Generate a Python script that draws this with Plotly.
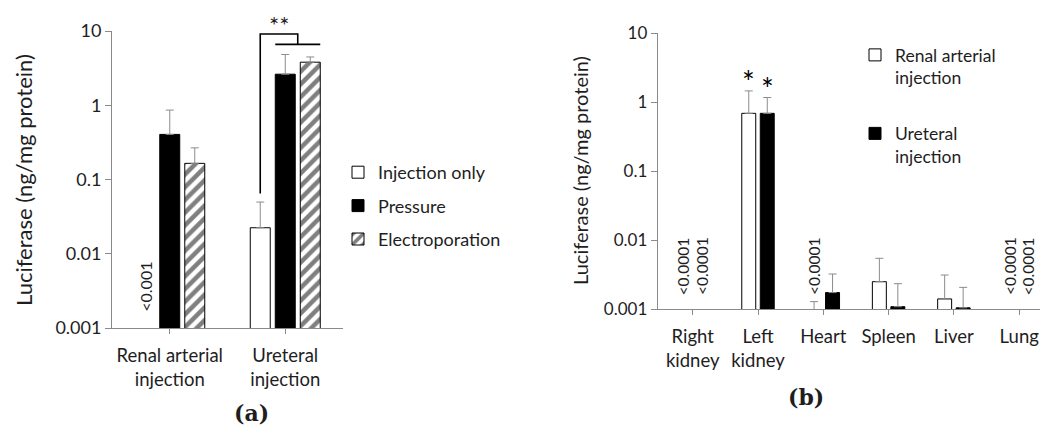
import numpy as np
import plotly.graph_objects as go

# ---------------- data ----------------
# Panel (a)
cats_a = ["Renal arterial<br>injection", "Ureteral<br>injection"]
series_a = ["Injection only", "Pressure", "Electroporation"]
inj_only = [None, 0.0224]
inj_only_err = [None, 0.0497]
pressure = [0.405, 2.62]
pressure_err = [0.86, 4.83]
electro = [0.165, 3.80]
electro_err = [0.267, 4.47]
below_a = [("Injection only", 0, "<0.001")]

# Panel (b)
cats_b = ["Right<br>kidney", "Left<br>kidney", "Heart", "Spleen", "Liver", "Lung"]
series_b = ["Renal arterial<br>injection", "Ureteral<br>injection"]
renal_b = [None, 0.69, 0.0001, 0.00249, 0.0014, None]
renal_b_err = [None, 1.46, 0.00128, 0.00544, 0.00311, None]
ureter_b = [None, 0.69, 0.00173, 0.00108, 0.00104, None]
ureter_b_err = [None, 1.17, 0.00322, 0.00233, 0.00206, None]
below_b = [(0, 0, "<0.0001"), (0, 1, "<0.0001"), (2, 0, "<0.0001"),
           (5, 0, "<0.0001"), (5, 1, "<0.0001")]
stars_b = [(1, 0, "*"), (1, 1, "*")]

ytick_vals = [0.001, 0.01, 0.1, 1, 10]
ytick_text = ["0.001", "0.01", "0.1", "1", "10"]
ytitle = "Luciferase (ng/mg protein)"

# ---------------- style ----------------
FONT = "Lato"
TXT = "#1e1e1e"
AX = "#8a8a8a"
ERR = "#8c8c8c"

# the page body has an 8px margin: the figure is sized so that it fits the window
OX, OY = 8, 8
FW, FH = 1040, 418


def px(x):
    return (x - OX) / FW


def py(y):
    return 1 - (y - OY) / FH


wa, offs_a = 0.173, [-0.2165, 0.0, 0.2165]
wb, offs_b = 0.214, [-0.1416, 0.1416]


def err_plus(vals, tops):
    return [None if (v is None or t is None) else t - v for v, t in zip(vals, tops)]


def errdict(vals, tops):
    return dict(type="data", symmetric=False, array=err_plus(vals, tops),
                arrayminus=[0] * len(vals), color=ERR, thickness=1, width=4)


fig = go.Figure()
idx_a = np.arange(len(cats_a))
idx_b = np.arange(len(cats_b))

styles_a = [
    dict(color="white", line=dict(color="black", width=1)),
    dict(color="black", line=dict(color="black", width=1)),
    dict(color="white", line=dict(color="black", width=1),
         pattern=dict(shape="/", fgcolor="black", bgcolor="white", size=9, solidity=0.5)),
]
vals_a = [inj_only, pressure, electro]
errs_a = [inj_only_err, pressure_err, electro_err]
for k in range(3):
    fig.add_trace(go.Bar(
        x=idx_a + offs_a[k], y=vals_a[k], width=wa, name=series_a[k],
        marker=styles_a[k], error_y=errdict(vals_a[k], errs_a[k]),
        xaxis="x", yaxis="y", legend="legend", legendgroup=series_a[k],
    ))

styles_b = [
    dict(color="white", line=dict(color="black", width=1)),
    dict(color="black", line=dict(color="black", width=1)),
]
vals_b = [renal_b, ureter_b]
errs_b = [renal_b_err, ureter_b_err]
for k in range(2):
    fig.add_trace(go.Bar(
        x=idx_b + offs_b[k], y=vals_b[k], width=wb, name=series_b[k],
        marker=styles_b[k], error_y=errdict(vals_b[k], errs_b[k]),
        xaxis="x2", yaxis="y2", legend="legend2", legendgroup="b%d" % k,
    ))

# significance bracket in panel (a)
xi = 1 + offs_a[0]
xl = 1 + offs_a[1] - wa / 2
xr = 1 + offs_a[2] + wa / 2
xm = (xl + xr) / 2
y_base = inj_only_err[1] * 1.3
y_top = 9.1
y_low = 6.6
fig.add_trace(go.Scatter(
    x=[xi, xi, xm, xm], y=[y_base, y_top, y_top, y_low],
    mode="lines", line=dict(color="black", width=1.6), showlegend=False,
    hoverinfo="skip", xaxis="x", yaxis="y", cliponaxis=False))
fig.add_trace(go.Scatter(
    x=[xl, xr], y=[y_low, y_low], mode="lines", line=dict(color="black", width=1.6),
    showlegend=False, hoverinfo="skip", xaxis="x", yaxis="y", cliponaxis=False))

ann = []
ann.append(dict(x=(xi + xm) / 2, y=np.log10(y_top), xref="x", yref="y",
                text="**", showarrow=False, xanchor="center", yanchor="bottom", yshift=-7,
                font=dict(family=FONT, size=24, color=TXT)))
for ser, ci, t in below_a:
    k = series_a.index(ser)
    ann.append(dict(x=ci + offs_a[k], y=-3, xref="x", yref="y", text=t, textangle=-90,
                    showarrow=False, xanchor="center", yanchor="bottom", yshift=14,
                    font=dict(family=FONT, size=16, color=TXT)))
for ci, k, t in below_b:
    ann.append(dict(x=ci + offs_b[k], y=-3, xref="x2", yref="y2", text=t, textangle=-90,
                    showarrow=False, xanchor="center", yanchor="bottom", yshift=12,
                    font=dict(family=FONT, size=15.5, color=TXT)))
for ci, k, t in stars_b:
    top = [renal_b_err, ureter_b_err][k][ci]
    ann.append(dict(x=ci + offs_b[k], y=np.log10(top), xref="x2", yref="y2", text=t,
                    showarrow=False, xanchor="center", yanchor="bottom", yshift=-10,
                    font=dict(family=FONT, size=30, color="black")))
# axis titles
ann.append(dict(x=px(24), y=py(180), xref="paper", yref="paper", text=ytitle, textangle=-90,
                showarrow=False, xanchor="center", yanchor="middle",
                font=dict(family=FONT, size=22, color=TXT)))
ann.append(dict(x=px(580), y=py(171), xref="paper", yref="paper", text=ytitle, textangle=-90,
                showarrow=False, xanchor="center", yanchor="middle",
                font=dict(family=FONT, size=20, color=TXT)))
# panel labels
ann.append(dict(x=px(251), y=py(413), xref="paper", yref="paper", text="<b>(a)</b>",
                showarrow=False, xanchor="center", yanchor="middle",
                font=dict(family="DejaVu Serif", size=22, color=TXT)))
ann.append(dict(x=px(806), y=py(397), xref="paper", yref="paper", text="<b>(b)</b>",
                showarrow=False, xanchor="center", yanchor="middle",
                font=dict(family="DejaVu Serif", size=22, color=TXT)))

xcommon = dict(showline=True, linecolor=AX, linewidth=1, ticks="outside", tickcolor=AX,
               ticklen=5, showgrid=False, zeroline=False, automargin=False)
ycommon = dict(type="log", range=[-3, 1], tickvals=ytick_vals, ticktext=ytick_text,
               showline=True, linecolor=AX, linewidth=1, ticks="outside", tickcolor=AX,
               ticklen=6, showgrid=False, zeroline=False, automargin=False)

fig.update_layout(
    width=FW, height=FH, autosize=False,
    margin=dict(l=0, r=0, t=0, b=0, pad=0, autoexpand=False),
    paper_bgcolor="white", plot_bgcolor="white", barmode="overlay",
    font=dict(family=FONT, color=TXT),
    xaxis=dict(domain=[px(112), px(343)], range=[-0.5, 1.5], tickvals=list(idx_a), ticktext=cats_a,
               ticklabelstandoff=6, tickfont=dict(family=FONT, size=18.5, color=TXT), **xcommon),
    yaxis=dict(domain=[py(328), py(31)], anchor="x",
               tickfont=dict(family=FONT, size=18, color=TXT), **ycommon),
    xaxis2=dict(domain=[px(657.7), px(1048)], range=[-0.536, 5.441], tickvals=list(idx_b),
                ticktext=cats_b, anchor="y2", ticklabelstandoff=6,
                tickfont=dict(family=FONT, size=18.5, color=TXT), **xcommon),
    yaxis2=dict(domain=[py(309), py(33.3)], anchor="x2",
                tickfont=dict(family=FONT, size=17, color=TXT), **ycommon),
    legend=dict(x=px(338), y=py(154), xanchor="left", yanchor="top", traceorder="grouped",
                tracegroupgap=7, font=dict(family=FONT, size=18, color=TXT), bgcolor="rgba(0,0,0,0)"),
    legend2=dict(x=px(855), y=py(37), xanchor="left", yanchor="top", traceorder="grouped",
                 tracegroupgap=30, valign="top", font=dict(family=FONT, size=17.5, color=TXT),
                 bgcolor="rgba(0,0,0,0)"),
    annotations=ann, showlegend=True,
)

fig.write_html("out.html")
